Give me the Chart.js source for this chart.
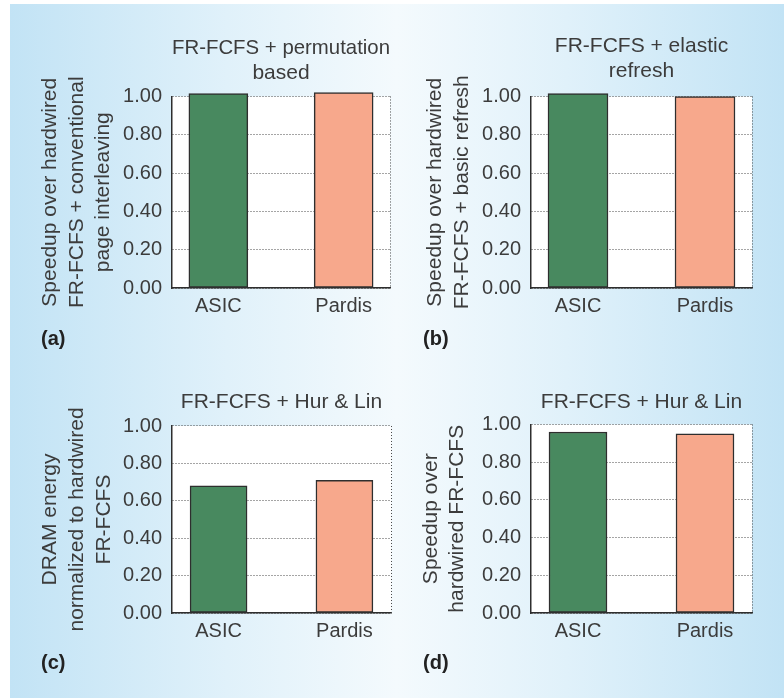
<!DOCTYPE html>
<html>
<head>
<meta charset="utf-8">
<script src="https://cdn.jsdelivr.net/npm/chart.js@4.4.1/dist/chart.umd.min.js"></script>
<style>
  html, body { margin: 0; padding: 0; background: #fff; }
  #figure { position: relative; width: 784px; height: 698px; overflow: hidden; background: #fff; }
  #backdrop {
    position: absolute; left: 10px; top: 4px; width: 774px; height: 694px;
    background: linear-gradient(to right, #c2e3f5 0%, #e0f1fa 28%, #f4fafd 50%, #e0f1fa 72%, #c2e3f5 100%);
  }
  canvas { position: absolute; }
  .letter {
    position: absolute; font: bold 20px "Liberation Sans", Arial, sans-serif;
    line-height: 20px; color: #222;
  }
</style>
</head>
<body>
<div id="figure">
  <div id="backdrop"></div>
  <canvas id="chartA" width="392" height="350" style="left:0;top:0"></canvas>
  <canvas id="chartB" width="392" height="350" style="left:392px;top:0"></canvas>
  <canvas id="chartC" width="392" height="348" style="left:0;top:350px"></canvas>
  <canvas id="chartD" width="392" height="348" style="left:392px;top:350px"></canvas>
</div>
<script>
// data
const categories = ['ASIC', 'Pardis'];
const yTicks = [0, 0.2, 0.4, 0.6, 0.8, 1.0];

const permutationSpeedup = [1.015, 1.02];
const elasticRefreshSpeedup = [1.015, 1.0];
const hurLinEnergy = [0.68, 0.71];
const hurLinSpeedup = [0.96, 0.95];

const panelLetters = ['(a)', '(b)', '(c)', '(d)'];
const panelTitles = [
  ['FR-FCFS + permutation', 'based'],
  ['FR-FCFS + elastic', 'refresh'],
  ['FR-FCFS + Hur & Lin'],
  ['FR-FCFS + Hur & Lin']
];
const axisTitles = [
  ['Speedup over hardwired', 'FR-FCFS + conventional', 'page interleaving'],
  ['Speedup over hardwired', 'FR-FCFS + basic refresh'],
  ['DRAM energy', 'normalized to hardwired', 'FR-FCFS'],
  ['Speedup over', 'hardwired FR-FCFS']
];

const family = '"Liberation Sans", Arial, Helvetica, sans-serif';
const textColor = '#3c3c3c';
const axisColor = '#2e2e2e';
const gridColor = '#4a4a4a';
const barColors = ['#48895f', '#f7a88c'];

// white plot area + dotted right edge
const plotFrame = {
  id: 'plotFrame',
  beforeDraw(chart) {
    const { ctx, chartArea: a } = chart;
    ctx.save();
    ctx.fillStyle = '#fff';
    ctx.fillRect(a.left, a.top, a.right - a.left, a.bottom - a.top);
    ctx.restore();
  },
  afterDatasetsDraw(chart) {
    const { ctx, chartArea: a } = chart;
    ctx.save();
    ctx.strokeStyle = gridColor;
    ctx.lineWidth = 1;
    ctx.setLineDash([1, 2]);
    ctx.beginPath();
    ctx.moveTo(Math.round(a.right) + 0.5, a.top);
    ctx.lineTo(Math.round(a.right) + 0.5, a.bottom);
    ctx.stroke();
    ctx.restore();
  }
};

function makeChart(canvasId, values, idx, g) {
  return new Chart(document.getElementById(canvasId), {
    type: 'bar',
    data: {
      datasets: [{
        data: values.map((v, i) => ({ x: i, y: v })),
        backgroundColor: barColors,
        borderColor: axisColor,
        borderWidth: 1.5,
        borderSkipped: false,
        barThickness: g.barWidth,
        clip: false
      }]
    },
    options: {
      responsive: false,
      animation: false,
      events: [],
      layout: { padding: { left: 0, right: g.padRight, top: 0, bottom: 0 } },
      plugins: {
        legend: { display: false },
        tooltip: { enabled: false },
        title: {
          display: true,
          text: panelTitles[idx],
          fullSize: false,
          color: textColor,
          font: { family: family, size: 21, weight: 'normal', lineHeight: 1.19 },
          padding: { top: g.titleTop, bottom: g.titleBottom }
        }
      },
      scales: {
        x: {
          type: 'linear',
          offset: false,
          min: -0.37,
          max: 1.37,
          afterBuildTicks: s => { s.ticks = categories.map((c, i) => ({ value: i })); },
          afterFit: s => { s.height = g.xHeight; },
          grid: { display: false, drawTicks: false, offset: false },
          border: { display: true, color: axisColor, width: 1.5 },
          ticks: {
            callback: v => categories[v],
            color: textColor,
            font: { family: family, size: 20 },
            padding: 6,
            maxRotation: 0,
            autoSkip: false
          }
        },
        y: {
          min: 0,
          max: 1,
          afterBuildTicks: s => { s.ticks = yTicks.map(v => ({ value: v })); },
          afterFit: s => { s.width = g.yWidth; },
          grid: { color: gridColor, lineWidth: 1, drawTicks: false },
          border: { display: true, color: axisColor, width: 1.5, dash: [1, 2] },
          ticks: {
            callback: v => v.toFixed(2),
            color: textColor,
            font: { family: family, size: 20 },
            padding: 10
          },
          title: {
            display: true,
            text: axisTitles[idx],
            color: textColor,
            font: { family: family, size: 21, weight: 'normal', lineHeight: g.axisLine },
            padding: { top: g.axisTop, bottom: 0 }
          }
        }
      }
    },
    plugins: [plotFrame]
  });
}

makeChart('chartA', permutationSpeedup, 0,
  { yWidth: 172, padRight: 2, xHeight: 62, titleTop: 35.5, titleBottom: 11, axisTop: 36.5, axisLine: 1.28, barWidth: 59 });
makeChart('chartB', elasticRefreshSpeedup, 1,
  { yWidth: 139, padRight: 32, xHeight: 62, titleTop: 34, titleBottom: 12.5, axisTop: 30.5, axisLine: 1.25, barWidth: 60 });
makeChart('chartC', hurLinEnergy, 2,
  { yWidth: 172, padRight: 1, xHeight: 85, titleTop: 39.5, titleBottom: 11.5, axisTop: 37, axisLine: 1.28, barWidth: 57 });
makeChart('chartD', hurLinSpeedup, 3,
  { yWidth: 139, padRight: 32, xHeight: 85, titleTop: 39.5, titleBottom: 10, axisTop: 26, axisLine: 1.25, barWidth: 58 });

// panel letters
const letterPos = [[41, 328], [423, 328], [41, 652], [423, 652]];
panelLetters.forEach((t, i) => {
  const d = document.createElement('div');
  d.className = 'letter';
  d.textContent = t;
  d.style.left = letterPos[i][0] + 'px';
  d.style.top = letterPos[i][1] + 'px';
  document.getElementById('figure').appendChild(d);
});
</script>
</body>
</html>
